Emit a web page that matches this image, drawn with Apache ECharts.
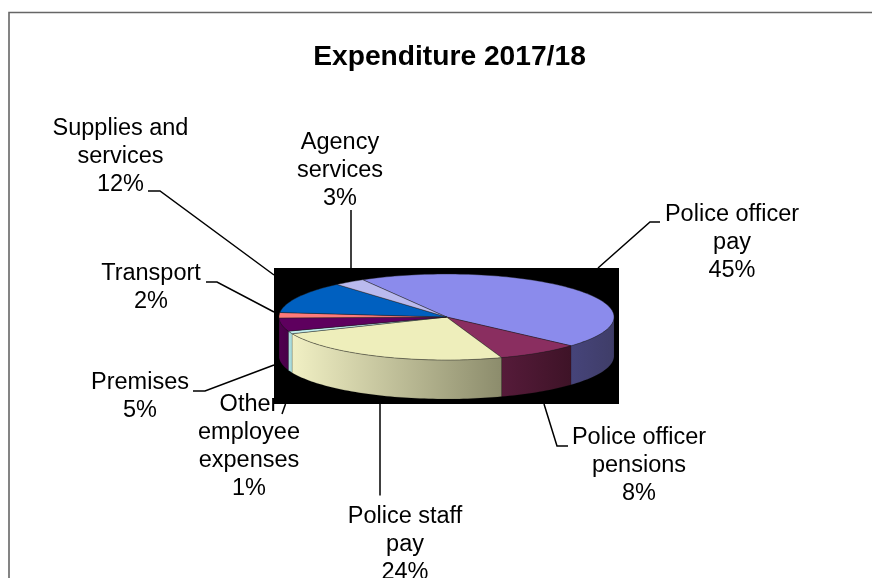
<!DOCTYPE html>
<html>
<head>
<meta charset="utf-8">
<style>html,body{margin:0;padding:0;background:#fff}#c{width:872px;height:578px}</style>
<script src="https://cdn.jsdelivr.net/npm/echarts@6/dist/echarts.min.js"></script>
</head>
<body>
<div id="c"></div>
<script>
const titleText = 'Expenditure 2017/18';
const categories = ['Police officer\npay', 'Police officer\npensions', 'Police staff\npay', 'Other\nemployee\nexpenses', 'Premises', 'Transport', 'Supplies and\nservices', 'Agency\nservices'];
const values = [45, 8, 24, 1, 5, 2, 12, 3];
const topColors = ['#8b8bec', '#8a2e60', '#eeeebb', '#c4f0f0', '#5e005e', '#ff7b7b', '#0060c0', '#babaee'];
const wallLeft = ['#46447a', '#561b3a', '#f1f0c4', '#b2e4e4', '#500050', '#b05050', '#004488', '#8080a8'];
const wallRight = ['#3f3d68', '#3e1327', '#8c8c6c', '#a4d4d4', '#480048', '#b05050', '#004488', '#8080a8'];

// Layout of the drawing
const pie = { cx: 446.5, cy: 317, a: 167.5, b: 43, depth: 39, startDeg: -30 };
const labelPlaces = [
  { x: 732, y: 243 }, { x: 639, y: 466 }, { x: 405, y: 545 }, { x: 249, y: 447 },
  { x: 140, y: 397 }, { x: 151, y: 288 }, { x: 120.5, y: 157 }, { x: 340, y: 171 }
];
const leaders = [
  [[660, 222], [650, 222], [598, 268]],
  [[568, 446], [557, 446], [544, 404]],
  [[380, 495.5], [380, 404]],
  [[282, 414], [285.5, 404]],
  [[193, 391], [205, 391], [274, 365]],
  [[206, 282], [217, 282], [274, 312]],
  [[148, 191], [160, 191], [274, 275]],
  [[351, 210], [351, 268]]
];
const total = values.reduce((s, v) => s + v, 0);
const rad = d => d * Math.PI / 180;
const px = t => pie.cx + pie.a * Math.sin(rad(t));
const py = t => pie.cy - pie.b * Math.cos(rad(t));

function arcPoints(t0, t1, dy) {
  const pts = [];
  const n = Math.max(2, Math.ceil(Math.abs(t1 - t0) / 1.5));
  for (let i = 0; i <= n; i++) {
    const t = t0 + (t1 - t0) * i / n;
    pts.push([px(t), py(t) + dy]);
  }
  return pts;
}

function renderSlice(params, api) {
  const i = params.dataIndex;
  const v = api.value(0);
  let before = 0;
  for (let k = 0; k < i; k++) before += values[k];
  const t0 = pie.startDeg + before / total * 360;
  const t1 = t0 + v / total * 360;
  const children = [];
  const w0 = Math.max(t0, 90), w1 = Math.min(t1, 270);
  if (w1 > w0) {
    const upper = arcPoints(w0, w1, 0);
    const lower = arcPoints(w1, w0, pie.depth);
    children.push({
      type: 'polygon',
      z2: 1,
      shape: { points: upper.concat(lower) },
      style: {
        fill: new echarts.graphic.LinearGradient(0, 0, 1, 0, [
          { offset: 0, color: wallLeft[i] },
          { offset: 1, color: wallRight[i] }
        ]),
        stroke: 'rgba(20,20,20,0.35)',
        lineWidth: 0.4
      }
    });
  }
  children.push({
    type: 'polygon',
    z2: 2,
    shape: { points: [[pie.cx, pie.cy]].concat(arcPoints(t0, t1, 0)) },
    style: { fill: topColors[i], stroke: 'rgba(30,30,30,0.6)', lineWidth: 0.7 }
  });
  return { type: 'group', children };
}

const textFont = { fontFamily: '"Liberation Sans", Arial, sans-serif', fontSize: 23.5, lineHeight: 28, fill: '#000', align: 'center', verticalAlign: 'middle' };
const graphics = [
  { type: 'polyline', z: 0, silent: true, shape: { points: [[9, 578], [9, 12.5], [872, 12.5]] }, style: { stroke: '#666', lineWidth: 1.6, fill: null } },
  { type: 'text', z: 1, silent: true, x: 449.5, y: 57, style: { text: titleText, fontFamily: '"Liberation Sans", Arial, sans-serif', fontWeight: 'bold', fontSize: 28.2, fill: '#000', align: 'center', verticalAlign: 'middle' } }
];
categories.forEach((name, i) => {
  graphics.push({ type: 'polyline', z: 1, silent: true, shape: { points: leaders[i] }, style: { stroke: '#000', lineWidth: 1.5, fill: null } });
  graphics.push({ type: 'text', z: 1, silent: true, x: labelPlaces[i].x, y: labelPlaces[i].y, style: Object.assign({ text: name + '\n' + values[i] + '%' }, textFont) });
});
graphics.push({ type: 'rect', z: 1.5, silent: true, shape: { x: 274, y: 268, width: 345, height: 136 }, style: { fill: '#000' } });

const chart = echarts.init(document.getElementById('c'), null, { renderer: 'canvas' });
chart.setOption({
  animation: false,
  backgroundColor: '#fff',
  graphic: { elements: graphics },
  series: [{
    type: 'custom',
    coordinateSystem: 'none',
    z: 5,
    silent: true,
    renderItem: renderSlice,
    data: values.map((v, i) => ({ name: categories[i], value: [v] }))
  }]
});
</script>
</body>
</html>
